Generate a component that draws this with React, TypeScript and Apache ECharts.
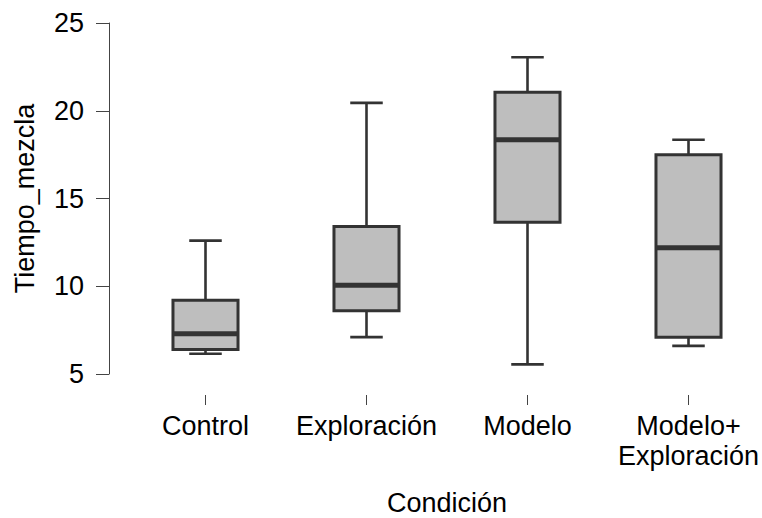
import React, { useEffect, useRef } from "react";
import * as echarts from "echarts";

const categories = ["Control", "Exploración", "Modelo", "Modelo+\nExploración"];
const lowerWhisker = [6.15, 7.1, 5.55, 6.6];
const q1 = [6.4, 8.6, 13.65, 7.1];
const median = [7.3, 10.05, 18.35, 12.2];
const q3 = [9.2, 13.4, 21.05, 17.5];
const upperWhisker = [12.6, 20.45, 23.05, 18.35];
const yTicks = { min: 5, max: 25, interval: 5 };

const FONT = "'Liberation Sans', Arial, Helvetica, sans-serif";
const STROKE = "#333333";

export default function App() {
  const ref = useRef<HTMLDivElement>(null);
  useEffect(() => {
    if (!ref.current) return;
    const chart = echarts.init(ref.current, null, { renderer: "svg" });
    const data = categories.map((_, i) => [i, lowerWhisker[i], q1[i], median[i], q3[i], upperWhisker[i]]);
    chart.setOption({
      animation: false,
      backgroundColor: "#ffffff",
      grid: { left: 125, top: 23, width: 644, height: 351, containLabel: false, outerBoundsMode: "none" },
      xAxis: {
        type: "category",
        data: categories,
        boundaryGap: true,
        offset: 21,
        axisLine: { show: false },
        axisTick: { show: true, alignWithLabel: true, length: 10, lineStyle: { color: "#444", width: 1 } },
        axisLabel: { fontSize: 27, color: "#000", fontFamily: FONT, margin: 16, lineHeight: 30, interval: 0 },
        name: "Condición",
        nameLocation: "middle",
        nameGap: 94,
        nameTextStyle: { fontSize: 27, color: "#000", fontFamily: FONT },
        splitLine: { show: false },
      },
      yAxis: {
        type: "value",
        min: yTicks.min,
        max: yTicks.max,
        interval: yTicks.interval,
        offset: 16,
        axisLine: { show: true, lineStyle: { color: "#444", width: 1 } },
        axisTick: { show: true, length: 13, lineStyle: { color: "#444", width: 1 } },
        axisLabel: { fontSize: 27, color: "#000", fontFamily: FONT, margin: 25 },
        splitLine: { show: false },
        name: "Tiempo_mezcla",
        nameLocation: "middle",
        nameGap: 71,
        nameTextStyle: { fontSize: 27, color: "#000", fontFamily: FONT },
      },
      series: [
        {
          type: "custom",
          data,
          clip: false,
          encode: { x: 0, y: [1, 2, 3, 4, 5] },
          renderItem: (params: any, api: any) => {
            const idx = api.value(0);
            const pLw = api.coord([idx, api.value(1)]);
            const pQ1 = api.coord([idx, api.value(2)]);
            const pMed = api.coord([idx, api.value(3)]);
            const pQ3 = api.coord([idx, api.value(4)]);
            const pUw = api.coord([idx, api.value(5)]);
            const band = api.size([1, 0])[0];
            const boxW = band * 0.404;
            const capW = boxW * 0.5;
            const cx = pMed[0];
            const lineStyle = { stroke: STROKE, lineWidth: 2.6, fill: null };
            return {
              type: "group",
              children: [
                { type: "line", shape: { x1: cx, y1: pQ3[1], x2: cx, y2: pUw[1] }, style: lineStyle },
                { type: "line", shape: { x1: cx, y1: pLw[1], x2: cx, y2: pQ1[1] }, style: lineStyle },
                { type: "line", shape: { x1: cx - capW / 2, y1: pUw[1], x2: cx + capW / 2, y2: pUw[1] }, style: lineStyle },
                { type: "line", shape: { x1: cx - capW / 2, y1: pLw[1], x2: cx + capW / 2, y2: pLw[1] }, style: lineStyle },
                {
                  type: "rect",
                  shape: { x: cx - boxW / 2, y: pQ3[1], width: boxW, height: pQ1[1] - pQ3[1] },
                  style: { fill: "#bebebe", stroke: STROKE, lineWidth: 3 },
                },
                {
                  type: "line",
                  shape: { x1: cx - boxW / 2, y1: pMed[1], x2: cx + boxW / 2, y2: pMed[1] },
                  style: { stroke: STROKE, lineWidth: 5 },
                },
              ],
            };
          },
        },
      ],
    });
    return () => chart.dispose();
  }, []);
  return (
    <div style={{ width: 762, height: 518, position: "absolute", left: 0, top: 0, overflow: "hidden" }}>
      <div ref={ref} style={{ width: 762, height: 518 }} />
    </div>
  );
}
